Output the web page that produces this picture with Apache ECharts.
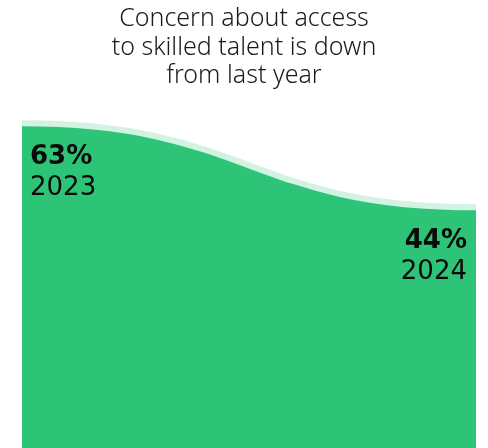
<!DOCTYPE html>
<html>
<head>
<meta charset="utf-8">
<script src="https://cdn.jsdelivr.net/npm/echarts@6/dist/echarts.min.js"></script>
<style>
  html, body { margin: 0; padding: 0; background: #fff; }
  #chart { width: 488px; height: 448px; }
</style>
</head>
<body>
<div id="chart"></div>
<script>
// Share of respondents concerned about access to skilled talent
const years = ['2023', '2024'];
const shares = [63, 44];
const titleLines = ['Concern about access', 'to skilled talent is down', 'from last year'];

const FILL = '#2dc478';
const EDGE = '#d3f3e2';
const TITLE_FONT = '"Noto Sans", sans-serif';
const LABEL_FONT = '"DejaVu Sans", sans-serif';

const chart = echarts.init(document.getElementById('chart'));

function renderArea(params, api) {
  const idx = params.dataIndex;
  const children = [];
  const pts = years.map((y, i) => api.coord([i, shares[i]]));
  const bottom = api.getHeight();

  if (idx === 0) {
    const a = pts[0], b = pts[pts.length - 1];
    const mid = (b[0] - a[0]) / 2;
    const curve = `M${a[0]},${a[1]} C${a[0] + mid},${a[1]} ${b[0] - mid},${b[1]} ${b[0]},${b[1]}`;
    children.push({
      type: 'path',
      shape: { pathData: `${curve} L${b[0]},${bottom} L${a[0]},${bottom} Z` },
      style: { fill: FILL }
    });
    children.push({
      type: 'path',
      shape: { pathData: curve },
      style: { fill: null, stroke: EDGE, lineWidth: 6 }
    });
  }

  // Value and year label under each end of the curve
  const p = api.coord([idx, api.value(1)]);
  const first = idx === 0;
  const x = first ? p[0] + 8 : p[0] - 9;
  const align = first ? 'left' : 'right';
  children.push({
    type: 'text',
    z2: 10,
    style: {
      text: api.value(1) + '%', x: x, y: p[1] + 33.5,
      align: align, verticalAlign: 'middle',
      font: `bold 26px ${LABEL_FONT}`, fill: '#0a0a0a'
    }
  });
  children.push({
    type: 'text',
    z2: 10,
    style: {
      text: years[idx], x: x, y: p[1] + 65,
      align: align, verticalAlign: 'middle',
      font: `26px ${LABEL_FONT}`, fill: '#0a0a0a'
    }
  });
  return { type: 'group', children: children };
}

chart.setOption({
  animation: false,
  title: {
    text: titleLines.join('\n'),
    left: 'center',
    top: 0,
    textStyle: {
      fontFamily: TITLE_FONT,
      fontWeight: 300,
      fontSize: 25,
      lineHeight: 28.5,
      color: '#1a1a1a'
    }
  },
  grid: { left: 22, right: 12, top: 4, bottom: 2 },
  xAxis: {
    type: 'category',
    data: years,
    boundaryGap: false,
    show: false
  },
  yAxis: {
    type: 'value',
    min: -10,
    max: 90,
    show: false
  },
  series: [{
    type: 'custom',
    renderItem: renderArea,
    data: shares.map((v, i) => [i, v]),
    encode: { x: 0, y: 1 }
  }]
});
</script>
</body>
</html>
